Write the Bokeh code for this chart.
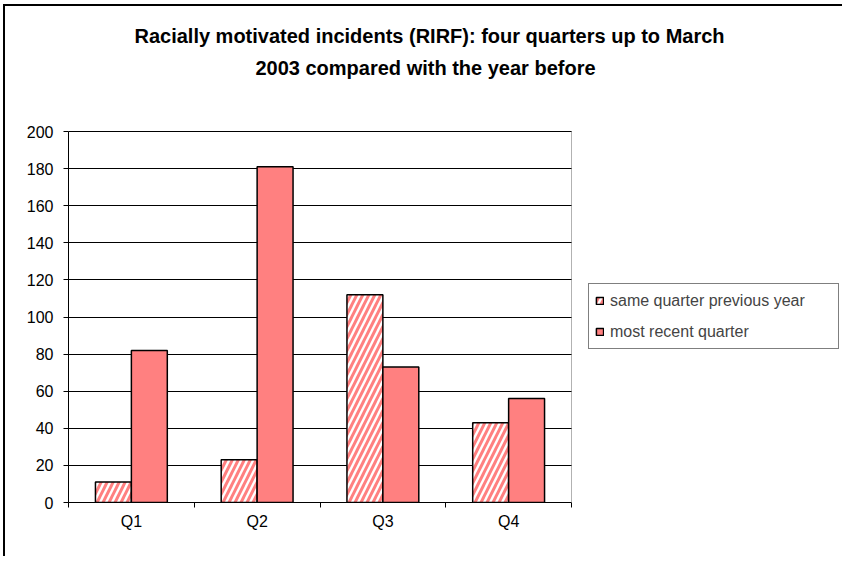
from bokeh.plotting import figure
from bokeh.models import (Range1d, FixedTicker, Legend, LegendItem, Label,
                          BoxAnnotation, ColumnDataSource)
from bokeh.transform import dodge
from bokeh.embed import file_html
from bokeh.resources import INLINE

# ---- data ----
quarters = ["Q1", "Q2", "Q3", "Q4"]
previous_year = [11, 23, 112, 43]
recent_quarter = [82, 181, 73, 56]
y_ticks = [0, 20, 40, 60, 80, 100, 120, 140, 160, 180, 200]
series_names = ["same quarter previous year", "most recent quarter"]
title_lines = ["Racially motivated incidents (RIRF): four quarters up to March",
               "2003 compared with the year before"]

FONT = "Liberation Sans"
PINK = "#FF8080"
OX, OY = 5, 6                      # page offset of the figure canvas
W, H = 844 - OX, 558 - OY
PL, PR, PT, PB = 68, 571, 131, 502  # plot area on the page
FT, FR = 10, 844                    # bokeh frame top / right on the page
n = len(quarters)
y_max = y_ticks[-1]
x_end = n * (FR - PL) / (PR - PL)
y_end = y_max * (PB - FT) / (PB - PT)


def x_at(px):
    return (px - PL) * n / (PR - PL)


def y_at(py):
    return (PB - py) * y_max / (PB - PT)


centers = [i + 0.5 for i in range(n)]
src = ColumnDataSource(dict(x=centers, prev=previous_year, recent=recent_quarter, q=quarters))

p = figure(width=W, height=H, output_backend="svg", toolbar_location=None,
           x_range=Range1d(0, x_end), y_range=Range1d(0, y_end),
           min_border_left=PL - OX, min_border_right=W - (FR - OX),
           min_border_top=FT - OY, min_border_bottom=H - (PB - OY), title=None)
p.styles = {"margin-left": f"{OX}px", "margin-top": f"{OY}px",
            "box-shadow": "-2px -2px 0px 0px black"}
p.background_fill_color = "white"
p.border_fill_color = "white"
p.outline_line_color = None

bw = 1.0 / 3.5
r1 = p.vbar(x=dodge("x", -bw / 2, range=p.x_range), top="prev", width=bw, source=src,
            fill_color="white", hatch_pattern="/", hatch_color=PINK, hatch_scale=12,
            hatch_weight=3, line_color="black", line_width=1.5)
r2 = p.vbar(x=dodge("x", bw / 2, range=p.x_range), top="recent", width=bw, source=src,
            fill_color=PINK, line_color="black", line_width=1.5)

# axes
xa = p.xaxis[0]
xa.bounds = (0, n)
xa.ticker = FixedTicker(ticks=centers, minor_ticks=list(range(n + 1)))
xa.major_label_overrides = {c: q for c, q in zip(centers, quarters)}
xa.major_tick_line_color = None
xa.major_tick_out = 5
xa.major_tick_in = 0
xa.minor_tick_line_color = "black"
xa.minor_tick_out = 5
xa.minor_tick_in = 0
xa.major_label_standoff = 5
xa.axis_line_color = "black"
xa.major_label_text_font = FONT
xa.major_label_text_font_size = "16px"
xa.major_label_text_color = "black"

ya = p.yaxis[0]
ya.bounds = (0, y_max)
ya.ticker = FixedTicker(ticks=y_ticks)
ya.major_tick_out = 5
ya.major_tick_in = 0
ya.minor_tick_line_color = None
ya.major_label_standoff = 10
ya.axis_line_color = "black"
ya.major_label_text_font = FONT
ya.major_label_text_font_size = "16px"
ya.major_label_text_color = "black"

p.xgrid.visible = False
p.ygrid.grid_line_color = "black"
p.ygrid.grid_line_width = 1

# blank the area right of the plot, then draw the plot-area border
p.add_layout(BoxAnnotation(left=n, fill_color="white", fill_alpha=1, line_color=None))
p.add_layout(BoxAnnotation(left=0, right=n, bottom=0, top=y_max, fill_alpha=0,
                           line_color="black", line_width=1))

# legend
legend = Legend(items=[LegendItem(label=series_names[0], renderers=[r1]),
                       LegendItem(label=series_names[1], renderers=[r2])],
                location=(520, 153), margin=0, padding=6, spacing=10,
                glyph_width=9, glyph_height=9, label_standoff=6, label_height=21,
                label_width=222,
                label_text_font=FONT, label_text_font_size="16px",
                border_line_color="black", border_line_width=1,
                background_fill_color="white", background_fill_alpha=1)
p.add_layout(legend)

# two-line title, each line centred
for line, (cx, cy) in zip(title_lines, [(429, 35), (425, 67)]):
    p.add_layout(Label(x=x_at(cx), y=y_at(cy), text=line, text_align="center",
                       text_baseline="middle", text_font=FONT, text_font_style="bold",
                       text_font_size="20px", text_color="black"))

open("out.html", "w").write(file_html(p, INLINE))
